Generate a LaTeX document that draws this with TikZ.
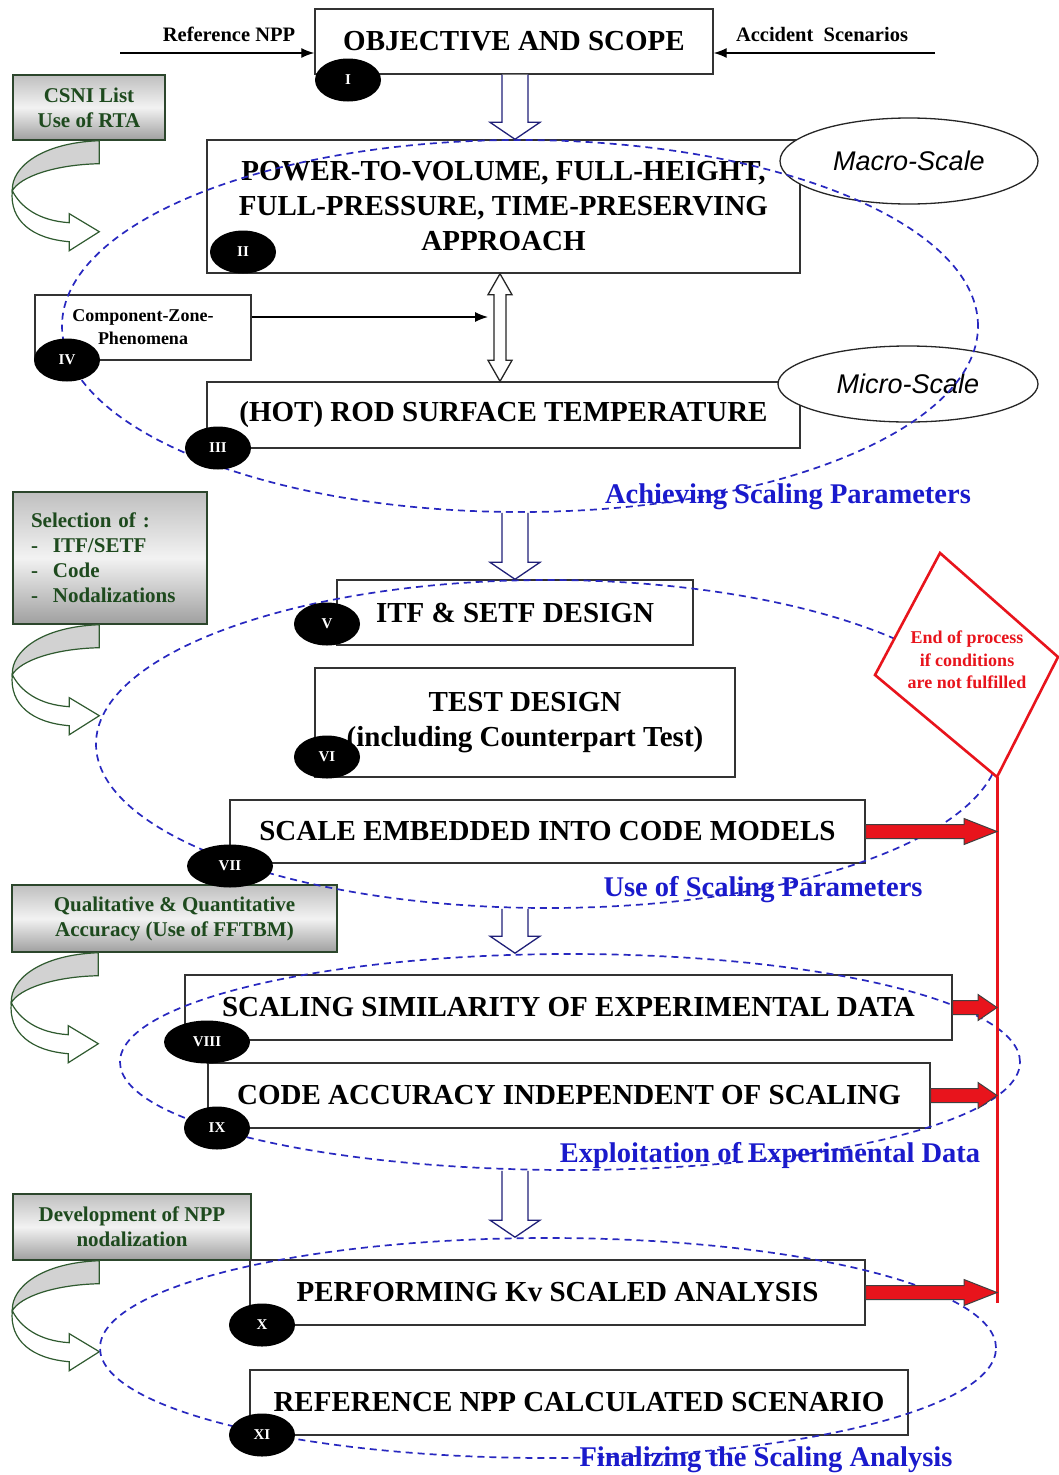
\documentclass[tikz,border=0pt]{standalone}
\usepackage{fontspec}
\setmainfont{Liberation Serif}
\newfontfamily\scalesans{Liberation Sans}
\usetikzlibrary{positioning,arrows.meta,calc,shapes.geometric}
\definecolor{sidegreen}{HTML}{1E4A1E}
\definecolor{sideedge}{HTML}{2C462C}
\definecolor{curledge}{HTML}{2F5A2F}
\definecolor{dashblue}{HTML}{2828C0}
\definecolor{lblblue}{HTML}{1A1ACC}
\definecolor{navyline}{HTML}{202078}
\definecolor{stopred}{HTML}{E8141C}
\newcommand{\blkfont}{\fontsize{29}{35}\selectfont\bfseries}
\newcommand{\sidefont}{\fontsize{21}{25}\selectfont\bfseries}
\newcommand{\czpfont}{\fontsize{18}{23}\selectfont\bfseries}
\newcommand{\tagfont}{\fontsize{15}{18}\selectfont\bfseries}
\newcommand{\ellfont}{\fontsize{27}{32}\selectfont\scalesans\itshape}
\newcommand{\stagefont}{\fontsize{28.5}{34}\selectfont\bfseries}
\tikzset{
  mainblk/.style={draw=black!80, line width=1.4pt, align=center, font=\blkfont, inner sep=0pt},
  sideblk/.style={draw=sideedge, line width=1.4pt, top color=gray!50, bottom color=gray!75,
                  middle color=gray!10, text=sidegreen, align=center, font=\sidefont, inner sep=0pt},
  badge/.style={ellipse, fill=black, text=white, font=\tagfont, minimum width=66pt,
                minimum height=43pt, inner sep=0pt},
  scaleell/.style={ellipse, draw=black!85, line width=1.3pt, fill=white, font=\ellfont, inner sep=0pt},
  stagedash/.style={ellipse, draw=dashblue, line width=1.7pt, dash pattern=on 7pt off 5pt, inner sep=0pt},
  stagelbl/.style={text=lblblue, font=\stagefont, inner sep=0pt},
  toplbl/.style={font=\fontsize{20.5}{24}\selectfont\bfseries, inner sep=0pt},
  flow/.style={-{Latex[length=13pt,width=10pt]}, line width=1.3pt},
  hollow/.style={draw=navyline, line width=1.3pt, fill=white, line join=miter},
  redblk/.style={draw=black!75, line width=1pt, fill=stopred},
  redline/.style={draw=stopred, line width=3pt},
  enddiam/.style={draw=stopred, line width=2.6pt, fill=white, line join=miter},
  endtxt/.style={text=stopred, align=center, font=\fontsize{18}{22.5}\selectfont\bfseries, inner sep=0pt},
}
\newcommand{\hollowdown}[2]{%
  \draw[hollow] let \p1=(#1), \p2=(#2) in
    (\x1-13pt,\y1) -- (\x1-13pt,\y2+17pt) -- (\x1-25pt,\y2+17pt) -- (\x1,\y2)
    -- (\x1+25pt,\y2+17pt) -- (\x1+13pt,\y2+17pt) -- (\x1+13pt,\y1);}
\newcommand{\hollowboth}[2]{%
  \draw[hollow, draw=black!85] let \p1=(#1), \p2=(#2) in
    (\x1,\y1) -- (\x1+12pt,\y1-21pt) -- (\x1+6pt,\y1-21pt) -- (\x1+6pt,\y2+21pt)
    -- (\x1+12pt,\y2+21pt) -- (\x2,\y2) -- (\x1-12pt,\y2+21pt) -- (\x1-6pt,\y2+21pt)
    -- (\x1-6pt,\y1-21pt) -- (\x1-12pt,\y1-21pt) -- cycle;}
\newcommand{\redarrow}[3][33]{%
  \filldraw[redblk] let \p1=(#2), \p2=(#3) in
    (\x1,\y1+7pt) -- (\x2-#1pt,\y1+7pt) -- (\x2-#1pt,\y1+13pt) -- (\x2,\y1)
    -- (\x2-#1pt,\y1-13pt) -- (\x2-#1pt,\y1-7pt) -- (\x1,\y1-7pt) -- cycle;}
\newcommand{\curlarrow}[1]{%
  \begin{scope}[shift={(#1)}]
    \filldraw[draw=curledge, line width=1.2pt, fill=gray!35]
      (87,0) -- (87,23) .. controls (42,24) and (8,36) .. (0,50)
      .. controls (-1,26) and (30,2) .. (87,0) -- cycle;
    \filldraw[draw=curledge, line width=1.2pt, fill=white]
      (0,50) .. controls (8,66) and (26,80) .. (57,82) -- (57,73) -- (87,91) -- (57,110)
      -- (57,101) .. controls (20,98) and (-3,80) .. (0,50) -- cycle;
  \end{scope}}

\begin{document}
\begin{tikzpicture}[x=1pt, y=-1pt]
  \path[use as bounding box, fill=white] (0,0) rectangle (1059,1475);

  \node[sideblk, minimum width=152pt, minimum height=65pt] (csni) at (89,107.5) {CSNI List\\Use of RTA};
  \node[sideblk, minimum width=194pt, minimum height=132pt, align=left, text width=158pt] (sel) at (110,558)
    {Selection of :\\\makebox[22pt][l]{-}ITF/SETF\\\makebox[22pt][l]{-}Code\\\makebox[22pt][l]{-}Nodalizations};
  \node[sideblk, minimum width=325pt, minimum height=67pt] (qual) at (174.5,918.5)
    {Qualitative \& Quantitative\\Accuracy (Use of FFTBM)};
  \node[sideblk, minimum width=238pt, minimum height=66pt] (devel) at (132,1227) {Development of NPP\\nodalization};
  \curlarrow{csni.south west}
  \curlarrow{sel.south west}
  \curlarrow{qual.south west}
  \curlarrow{devel.south west}

  \node[mainblk, minimum width=398pt, minimum height=65pt] (obj) at (514,41.5) {OBJECTIVE AND SCOPE};
  \node[mainblk, minimum width=593pt, minimum height=133pt] (pwr) at (503.5,206.5)
    {POWER-TO-VOLUME, FULL-HEIGHT,\\FULL-PRESSURE, TIME-PRESERVING\\APPROACH};
  \node[mainblk, minimum width=216pt, minimum height=65pt, font=\czpfont] (czp) at (143,327.5)
    {Component-Zone-\\Phenomena};
  \node[mainblk, minimum width=593pt, minimum height=66pt] (rod) at (503.5,415) {(HOT) ROD SURFACE TEMPERATURE};
  \node[mainblk, minimum width=356pt, minimum height=65pt] (itf) at (515,612.5) {ITF \& SETF DESIGN};
  \node[mainblk, minimum width=420pt, minimum height=109pt] (test) at (525,722.5)
    {TEST DESIGN\\(including Counterpart Test)};
  \node[mainblk, minimum width=635pt, minimum height=63pt] (embed) at (547.5,831.5) {SCALE EMBEDDED INTO CODE MODELS};
  \node[mainblk, minimum width=767pt, minimum height=65pt] (simil) at (568.5,1007.5)
    {SCALING SIMILARITY OF EXPERIMENTAL DATA};
  \node[mainblk, minimum width=722pt, minimum height=65pt] (accur) at (569,1095.5)
    {CODE ACCURACY INDEPENDENT OF SCALING};
  \node[mainblk, minimum width=615pt, minimum height=65pt] (kv) at (557.5,1292.5) {PERFORMING Kv SCALED ANALYSIS};
  \node[mainblk, minimum width=658pt, minimum height=65pt] (npp) at (579,1402.5) {REFERENCE NPP CALCULATED SCENARIO};

  \node[scaleell, minimum width=258pt, minimum height=86pt] (macro) at (909,161) {Macro-Scale};
  \node[scaleell, minimum width=260pt, minimum height=76pt] (micro) at (908,384) {Micro-Scale};

  \coordinate (refstart) at (120,53);
  \coordinate (accstart) at (935,53);
  \draw[flow] (refstart) -- (refstart -| obj.west);
  \draw[flow] (accstart) -- (accstart -| obj.east);
  \node[toplbl] (reflbl) at (229,34) {Reference NPP};
  \node[toplbl] (acclbl) at (822,34) {Accident\ \ Scenarios};

  \node[stagedash, minimum width=916pt, minimum height=372pt] (stage1) at (520,326) {};
  \node[stagedash, minimum width=904pt, minimum height=328pt] (stage2) at (548,744) {};
  \node[stagedash, minimum width=900pt, minimum height=216pt] (stage3) at (570,1062) {};
  \node[stagedash, minimum width=896pt, minimum height=220pt] (stage4) at (548,1348) {};

  \coordinate (spine) at (515,0);
  \coordinate (dbl) at (500,0);
  \coordinate (czptip) at (488,317);
  \hollowdown{spine |- obj.south}{spine |- pwr.north}
  \hollowdown{spine |- stage1.south}{spine |- itf.north}
  \hollowdown{spine |- stage2.south}{spine |- stage3.north}
  \hollowdown{spine |- stage3.south}{spine |- stage4.north}
  \hollowboth{dbl |- pwr.south}{dbl |- rod.north}
  \draw[flow] (czp.east |- czptip) -- (czptip);

  \node[badge] (tag1) at (348,80) {I};
  \node[badge] (tag2) at (243,252) {II};
  \node[badge] (tag3) at (218,448) {III};
  \node[badge] (tag4) at (67,360) {IV};
  \node[badge] (tag5) at (327,624) {V};
  \node[badge] (tag6) at (327,757) {VI};
  \node[badge, minimum width=86pt] (tag7) at (230,866) {VII};
  \node[badge, minimum width=86pt] (tag8) at (207,1042) {VIII};
  \node[badge] (tag9) at (217,1128) {IX};
  \node[badge] (tag10) at (262,1325) {X};
  \node[badge] (tag11) at (262,1435) {XI};

  \coordinate (endtop) at (940,553);
  \coordinate (endright) at (1058,657);
  \coordinate (endbot) at (997,777);
  \coordinate (endleft) at (875,675);
  \filldraw[enddiam] (endtop) -- (endright) -- (endbot) -- (endleft) -- cycle;
  \node[endtxt] (endnote) at (967,660) {End of process\\if conditions\\are not fulfilled};
  \coordinate (redfoot) at (0,1303);
  \draw[redline] (endbot) -- (endbot |- redfoot);
  \redarrow{embed.east}{endbot}
  \redarrow[19]{simil.east}{endbot}
  \redarrow[19]{accur.east}{endbot}
  \redarrow{kv.east}{endbot}

  \node[stagelbl] (stage1lbl) at (788,497) {Achieving Scaling Parameters};
  \node[stagelbl] (stage2lbl) at (763,890) {Use of Scaling Parameters};
  \node[stagelbl] (stage3lbl) at (770,1155) {Exploitation of Experimental Data};
  \node[stagelbl] (stage4lbl) at (766,1460) {Finalizing the Scaling Analysis};
\end{tikzpicture}
\end{document}
